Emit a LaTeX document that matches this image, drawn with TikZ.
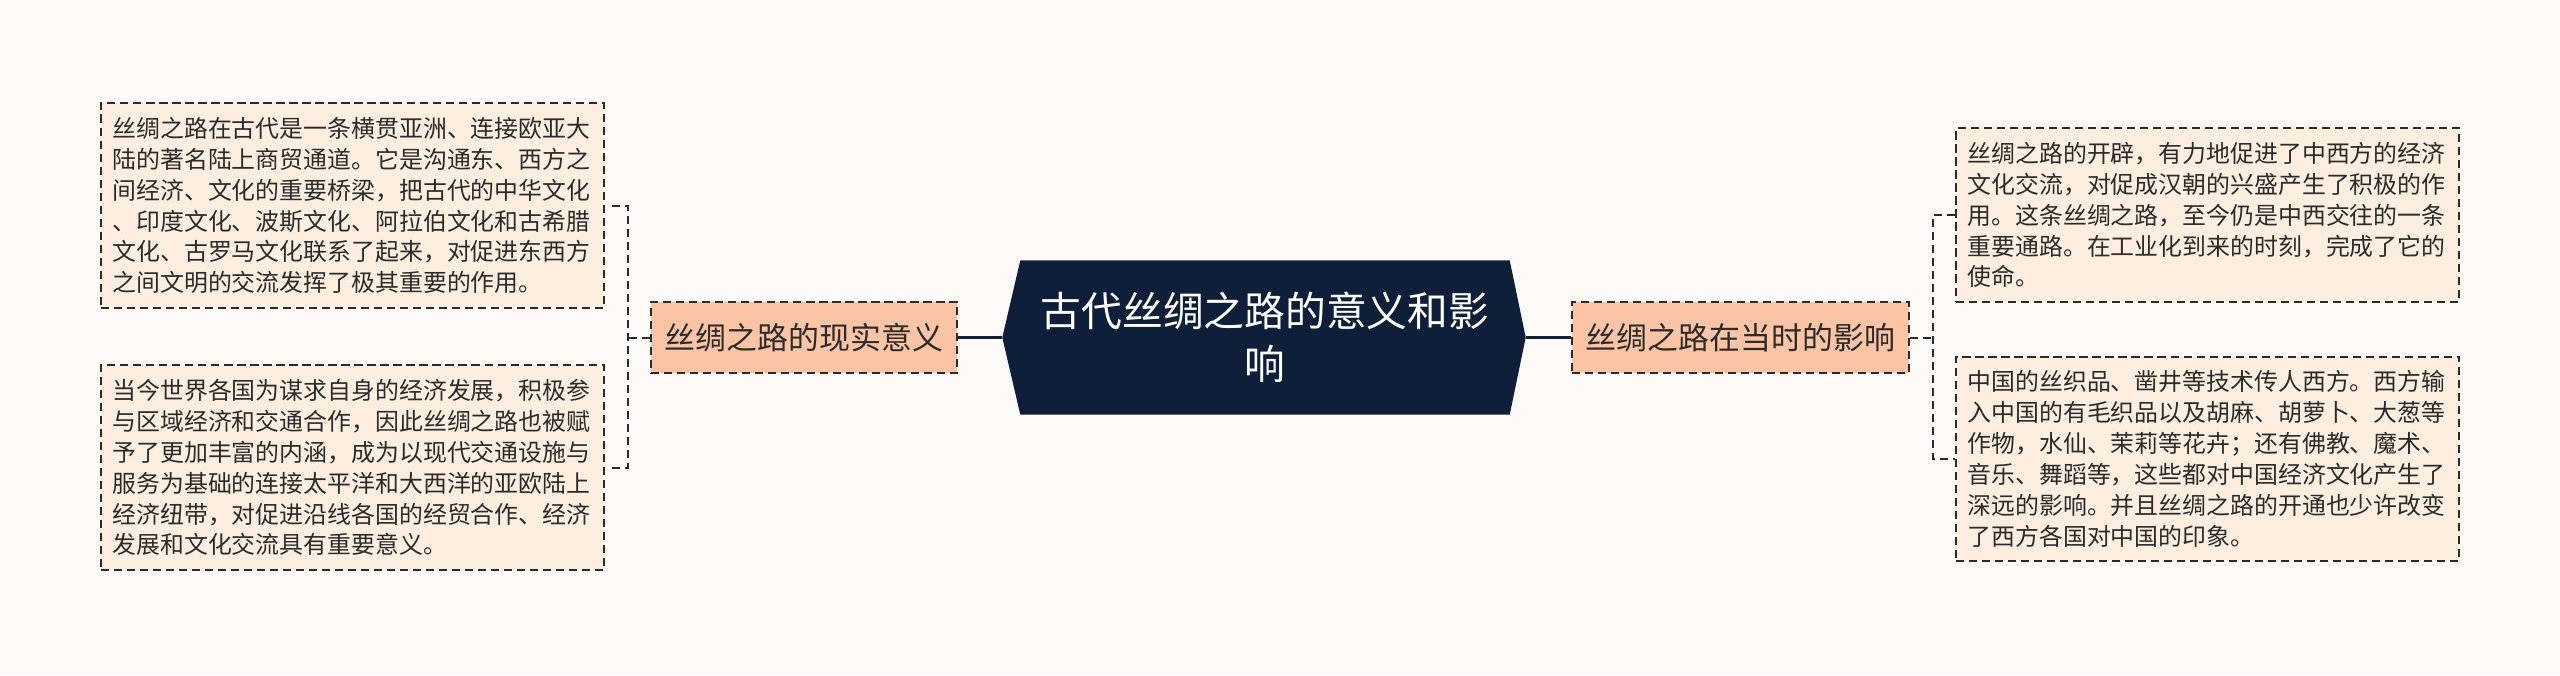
\documentclass[tikz,border=0pt]{standalone}
\usepackage{fontspec}
\setmainfont{Noto Sans CJK SC}
\usepackage{tikz}
\usetikzlibrary{positioning,backgrounds}
\definecolor{paper}{HTML}{FDF9F7}
\definecolor{navy}{HTML}{0E1F3A}
\definecolor{salmon}{HTML}{FBC4A4}
\definecolor{peach}{HTML}{FDEEE0}
\definecolor{ink}{HTML}{2B2B2B}
\tikzstyle{rootnode} = [text=white, align=center, text width=4.6cm, inner xsep=0.14cm, minimum height=1.53cm, font=\fontsize{11.6}{15}\selectfont]
\tikzstyle{branch} = [rectangle, draw=ink, fill=salmon, line width=0.57pt, dash pattern=on 2.3pt off 1.4pt, minimum height=0.71cm, inner xsep=0.14cm, text=ink, font=\fontsize{8.8}{10}\selectfont]
\tikzstyle{leaf} = [rectangle, draw=ink, fill=peach, line width=0.57pt, dash pattern=on 2.3pt off 1.4pt, text width=4.8cm, inner xsep=0.115cm, inner ysep=0.14cm, align=left, text=ink, font=\fontsize{6.8}{8.8}\selectfont]
\tikzstyle{trunk} = [draw=navy, line width=1pt]
\tikzstyle{twig}  = [draw=ink, line width=0.57pt, dash pattern=on 2.3pt off 1.4pt]

\begin{document}
\begin{tikzpicture}
	\useasboundingbox (0,0) rectangle (25.6,-6.75);

	% title node
	\node [rootnode] (N0) at (12.65,-3.375) {古代丝绸之路的意义和影\\响};

	% place nodes
	\node [branch, left=0.62cm of N0]  (N1) {丝绸之路的现实意义};
	\node [branch, right=0.61cm of N0] (N2) {丝绸之路在当时的影响};
	\node [leaf, left=0.45cm of N1, yshift=1.32cm] (N3) {丝绸之路在古代是一条横贯亚洲、连接欧亚大\\陆的著名陆上商贸通道。它是沟通东、西方之\\间经济、文化的重要桥梁，把古代的中华文化\\、印度文化、波斯文化、阿拉伯文化和古希腊\\文化、古罗马文化联系了起来，对促进东西方\\之间文明的交流发挥了极其重要的作用。};
	\node [leaf, left=0.45cm of N1, yshift=-1.3cm] (N4) {当今世界各国为谋求自身的经济发展，积极参\\与区域经济和交通合作，因此丝绸之路也被赋\\予了更加丰富的内涵，成为以现代交通设施与\\服务为基础的连接太平洋和大西洋的亚欧陆上\\经济纽带，对促进沿线各国的经贸合作、经济\\发展和文化交流具有重要意义。};
	\node [leaf, right=0.45cm of N2, yshift=1.225cm] (N5) {丝绸之路的开辟，有力地促进了中西方的经济\\文化交流，对促成汉朝的兴盛产生了积极的作\\用。这条丝绸之路，至今仍是中西交往的一条\\重要通路。在工业化到来的时刻，完成了它的\\使命。};
	\node [leaf, right=0.45cm of N2, yshift=-1.215cm] (N6) {中国的丝织品、凿井等技术传人西方。西方输\\入中国的有毛织品以及胡麻、胡萝卜、大葱等\\作物，水仙、茉莉等花卉；还有佛教、魔术、\\音乐、舞蹈等，这些都对中国经济文化产生了\\深远的影响。并且丝绸之路的开通也少许改变\\了西方各国对中国的印象。};

	% paper and title shape
	\begin{scope}[on background layer]
		\fill [paper] (0,0) rectangle (25.6,-6.75);
		\fill [navy] (N0.north west) -- (N0.north east) -- ([xshift=0.16cm]N0.east) -- (N0.south east)
			-- (N0.south west) -- ([xshift=-0.18cm]N0.west) -- cycle;
	\end{scope}

	% draw edges
	\path [trunk] ([xshift=-0.18cm]N0.west) -- (N1.east);
	\path [trunk] ([xshift=0.16cm]N0.east) -- (N2.west);
	\path [twig] (N1.west) -- ++(-0.22,0) coordinate (J1);
	\path [twig] ([xshift=0.07cm]N3.east) -| (J1) |- ([xshift=0.07cm]N4.east);
	\path [twig] (N2.east) -- ++(0.23,0) coordinate (J2);
	\path [twig] (N5.west) -| (J2) |- (N6.west);
\end{tikzpicture}
\end{document}
